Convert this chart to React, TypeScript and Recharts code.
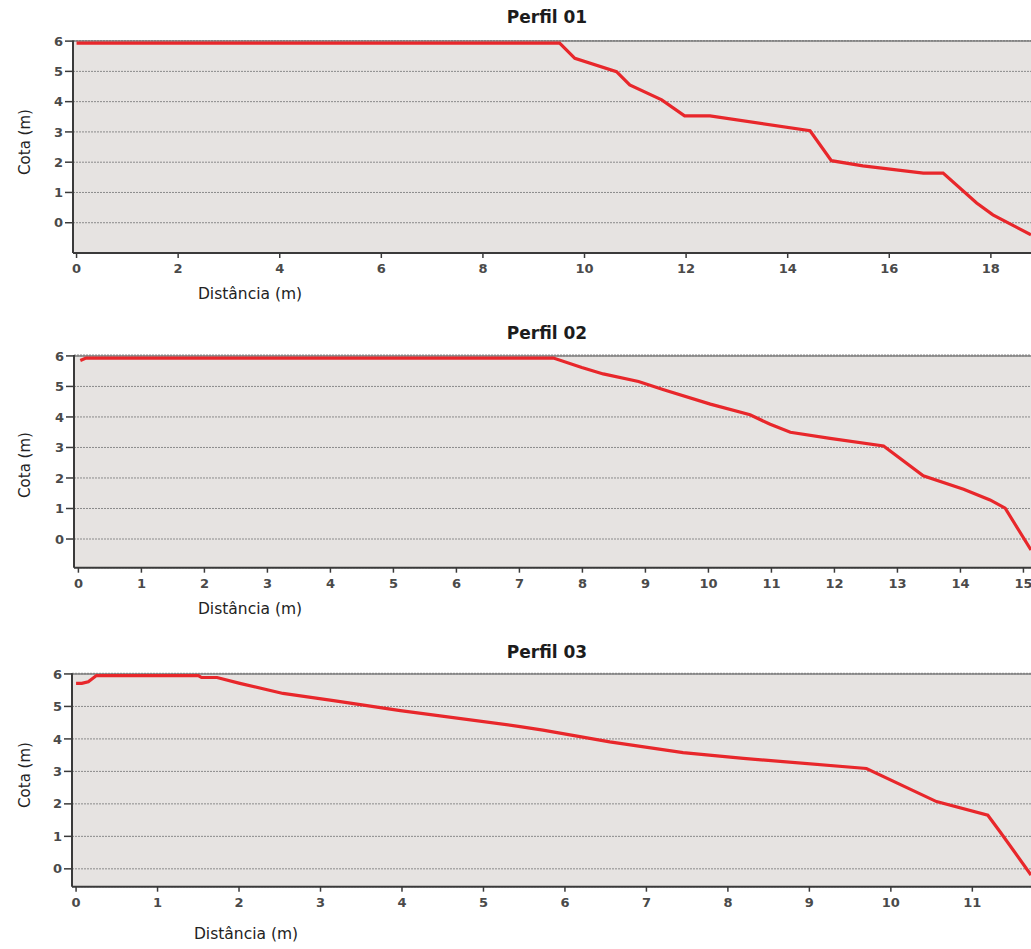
import React from "react";
import { LineChart, Line, XAxis, YAxis, CartesianGrid, ReferenceLine } from "recharts";

// Terrain profiles: distance (m) along the section vs. elevation (m)
const perfil01Dist = [0, 9.51, 9.81, 10.63, 10.89, 11.52, 11.97, 12.47, 14.44, 14.86, 15.48, 16.67, 17.06, 17.72, 18.04, 18.79];
const perfil01Cota = [5.93, 5.93, 5.43, 4.99, 4.55, 4.06, 3.53, 3.53, 3.04, 2.05, 1.88, 1.64, 1.64, 0.65, 0.26, -0.4];

const perfil02Dist = [0.03, 0.12, 7.54, 7.99, 8.33, 8.89, 9.29, 10.03, 10.66, 10.98, 11.3, 11.93, 12.78, 13.41, 14.05, 14.47, 14.71, 15.12];
const perfil02Cota = [5.85, 5.93, 5.93, 5.62, 5.41, 5.16, 4.89, 4.42, 4.07, 3.76, 3.5, 3.3, 3.05, 2.07, 1.63, 1.28, 1.01, -0.36];

const perfil03Dist = [0, 0.07, 0.15, 0.25, 1.5, 1.54, 1.73, 2.01, 2.54, 3.16, 3.98, 5.45, 5.73, 6.55, 7.45, 8.19, 9.7, 10.56, 11.19, 11.34, 11.72];
const perfil03Cota = [5.71, 5.71, 5.76, 5.95, 5.95, 5.89, 5.89, 5.71, 5.4, 5.18, 4.87, 4.38, 4.27, 3.91, 3.58, 3.4, 3.09, 2.07, 1.65, 1.14, -0.19];

const ticks01 = [0, 2, 4, 6, 8, 10, 12, 14, 16, 18];
const ticks02 = [0, 1, 2, 3, 4, 5, 6, 7, 8, 9, 10, 11, 12, 13, 14, 15];
const ticks03 = [0, 1, 2, 3, 4, 5, 6, 7, 8, 9, 10, 11];
const cotaTicks = [0, 1, 2, 3, 4, 5, 6];

const titles = ["Perfil 01", "Perfil 02", "Perfil 03"];

const toRows = (dist: number[], cota: number[]) => dist.map((d, i) => ({ dist: d, cota: cota[i] }));

const FONT = "'DejaVu Sans', Arial, sans-serif";
const AXIS_COLOR = "#3a3a3a";

type Panel = {
  title: string;
  rows: { dist: number; cota: number }[];
  xTicks: number[];
  xDomain: [number, number];
  yDomain: [number, number];
  top: number;
  height: number;
  plotTop: number;
  plotBottom: number;
  plotLeft: number;
  titleY: number;
  xLabelX: number;
  xLabelY: number;
  yLabelY: number;
};

const panels: Panel[] = [
  {
    title: titles[0],
    rows: toRows(perfil01Dist, perfil01Cota),
    xTicks: ticks01,
    xDomain: [-0.07, 18.79],
    yDomain: [-1, 6.02],
    top: 0,
    height: 310,
    plotTop: 40.5,
    plotBottom: 253,
    plotLeft: 73,
    titleY: 17,
    xLabelX: 250,
    xLabelY: 295,
    yLabelY: 142,
  },
  {
    title: titles[1],
    rows: toRows(perfil02Dist, perfil02Cota),
    xTicks: ticks02,
    xDomain: [-0.07, 15.12],
    yDomain: [-0.94, 6.03],
    top: 315,
    height: 310,
    plotTop: 355,
    plotBottom: 567.7,
    plotLeft: 74,
    titleY: 333,
    xLabelX: 250,
    xLabelY: 610,
    yLabelY: 465,
  },
  {
    title: titles[2],
    rows: toRows(perfil03Dist, perfil03Cota),
    xTicks: ticks03,
    xDomain: [-0.05, 11.72],
    yDomain: [-0.55, 6.02],
    top: 630,
    height: 319,
    plotTop: 673.3,
    plotBottom: 886.7,
    plotLeft: 72,
    titleY: 652,
    xLabelX: 246,
    xLabelY: 935,
    yLabelY: 775,
  },
];

const tickStyle = { fontFamily: FONT, fontSize: 13, fontWeight: 700, fill: "#4a4a4a" };

function ProfileChart({ p }: { p: Panel }) {
  const marginTop = p.plotTop - p.top;
  const xAxisHeight = p.top + p.height - p.plotBottom;
  return (
    <div style={{ position: "absolute", left: 0, top: p.top, width: 1031, height: p.height }}>
      <LineChart
        width={1031}
        height={p.height}
        data={p.rows}
        margin={{ top: marginTop, right: 0, bottom: 0, left: 0 }}
      >
        <CartesianGrid
          horizontal={true}
          vertical={false}
          fill="#e6e3e1"
          stroke="#8a8a8a"
          strokeDasharray="2 1"
        />
        <ReferenceLine y={6} stroke="#808080" strokeWidth={1.5} ifOverflow="extendDomain" />
        <XAxis
          dataKey="dist"
          type="number"
          domain={p.xDomain}
          allowDataOverflow
          ticks={p.xTicks}
          interval={0}
          height={xAxisHeight}
          tick={tickStyle}
          tickSize={5}
          tickMargin={6}
          axisLine={{ stroke: AXIS_COLOR, strokeWidth: 2 }}
          tickLine={{ stroke: AXIS_COLOR, strokeWidth: 1.5 }}
        />
        <YAxis
          dataKey="cota"
          type="number"
          domain={p.yDomain}
          allowDataOverflow
          ticks={cotaTicks}
          interval={0}
          width={p.plotLeft}
          tick={tickStyle}
          tickSize={8}
          tickMargin={2}
          axisLine={{ stroke: AXIS_COLOR, strokeWidth: 2 }}
          tickLine={{ stroke: AXIS_COLOR, strokeWidth: 1.5 }}
        />
        <Line
          type="linear"
          dataKey="cota"
          stroke="#e8272b"
          strokeWidth={3.2}
          dot={false}
          activeDot={false}
          isAnimationActive={false}
        />
      </LineChart>
    </div>
  );
}

const centered = (x: number, y: number, extra: React.CSSProperties = {}): React.CSSProperties => ({
  position: "absolute",
  left: x,
  top: y,
  transform: "translate(-50%, -50%)",
  whiteSpace: "nowrap",
  fontFamily: FONT,
  lineHeight: 1,
  ...extra,
});

export default function App() {
  return (
    <div
      style={{
        position: "absolute",
        left: 0,
        top: 0,
        width: 1031,
        height: 949,
        overflow: "hidden",
        background: "#ffffff",
      }}
    >
      {panels.map((p) => (
        <React.Fragment key={p.title}>
          <ProfileChart p={p} />
          <div style={centered(547, p.titleY, { fontSize: 17, fontWeight: 700, color: "#1c1c1c" })}>{p.title}</div>
          <div style={centered(p.xLabelX, p.xLabelY, { fontSize: 15.5, color: "#222222" })}>Distância (m)</div>
          <div
            style={centered(25, p.yLabelY, {
              fontSize: 15,
              color: "#222222",
              transform: "translate(-50%, -50%) rotate(-90deg)",
            })}
          >
            Cota (m)
          </div>
        </React.Fragment>
      ))}
    </div>
  );
}
